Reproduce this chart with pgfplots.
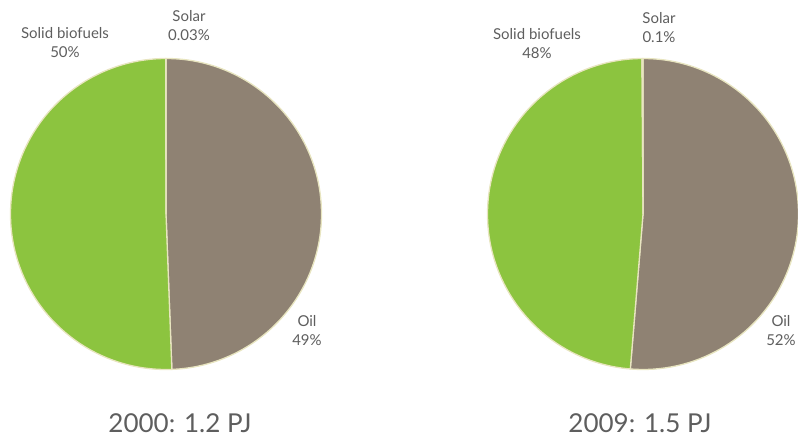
\documentclass[border=0pt]{standalone}
\usepackage{fontspec}
\setmainfont{Lato}
\usepackage{pgfplots}
\usepackage{pgfplotstable}
\pgfplotsset{compat=1.18}
\definecolor{oilbrown}{HTML}{8F8273}
\definecolor{biogreen}{HTML}{8CC43F}
\definecolor{solarcream}{HTML}{EAE6B2}
\definecolor{edgecream}{HTML}{E8E5C0}
\definecolor{labelgray}{HTML}{5E5E5E}

% shares in percent, clockwise from 12 o'clock
\pgfplotstableread{
source value
Oil 49.4
Biofuels 50.57
Solar 0.03
}\pieA
\pgfplotstableread{
source value
Oil 51.3
Biofuels 48.6
Solar 0.1
}\pieB

\newcommand{\slice}[6]{% cx cy r start end colour
  \filldraw[fill=#6, draw=edgecream, line width=1.3pt, line join=round]
    (axis cs:#1,#2) -- ++(#4:#3pt) arc[start angle=#4, end angle=#5, radius=#3pt] -- cycle;}

\begin{document}
\begin{tikzpicture}
\pgfplotstablegetelem{0}{value}\of\pieA \pgfmathsetmacro\aOilA{90-3.6*\pgfplotsretval}
\pgfplotstablegetelem{1}{value}\of\pieA \pgfmathsetmacro\aBioA{\aOilA-3.6*\pgfplotsretval}
\pgfplotstablegetelem{2}{value}\of\pieA \pgfmathsetmacro\aSolA{\aBioA-3.6*\pgfplotsretval}
\pgfplotstablegetelem{0}{value}\of\pieB \pgfmathsetmacro\aOilB{90-3.6*\pgfplotsretval}
\pgfplotstablegetelem{1}{value}\of\pieB \pgfmathsetmacro\aBioB{\aOilB-3.6*\pgfplotsretval}
\pgfplotstablegetelem{2}{value}\of\pieB \pgfmathsetmacro\aSolB{\aBioB-3.6*\pgfplotsretval}
\begin{axis}[
  width=798pt, height=439pt, scale only axis,
  xmin=0, xmax=798, ymin=0, ymax=439,
  hide axis, clip=false,
]
  % 2000
  \slice{166}{225}{155.5}{90}{\aOilA}{oilbrown}
  \slice{166}{225}{155.5}{\aOilA}{\aBioA}{biogreen}
  \slice{166}{225}{155.5}{\aBioA}{\aSolA}{solarcream}
  % 2009
  \slice{643}{225}{155.5}{90}{\aOilB}{oilbrown}
  \slice{643}{225}{155.5}{\aOilB}{\aBioB}{biogreen}
  \slice{643}{225}{155.5}{\aBioB}{\aSolB}{solarcream}

  \begin{scope}[every node/.style={text=labelgray, align=center,
      font=\fontsize{15}{19}\selectfont}]
    \node at (axis cs:65,396.5) {Solid biofuels\\50\%};
    \node at (axis cs:189,413.5) {Solar\\0.03\%};
    \node at (axis cs:307,108) {Oil\\49\%};
    \node at (axis cs:537,395.5) {Solid biofuels\\48\%};
    \node at (axis cs:659,411.5) {Solar\\0.1\%};
    \node at (axis cs:781,108) {Oil\\52\%};
  \end{scope}
  \node[text=labelgray, font=\fontsize{26}{30}\selectfont] at (axis cs:180,16) {2000: 1.2 PJ};
  \node[text=labelgray, font=\fontsize{26}{30}\selectfont] at (axis cs:640,16) {2009: 1.5 PJ};
\end{axis}
\pgfresetboundingbox
\path[use as bounding box] (0,0) rectangle (798pt,439pt);
\end{tikzpicture}
\end{document}
